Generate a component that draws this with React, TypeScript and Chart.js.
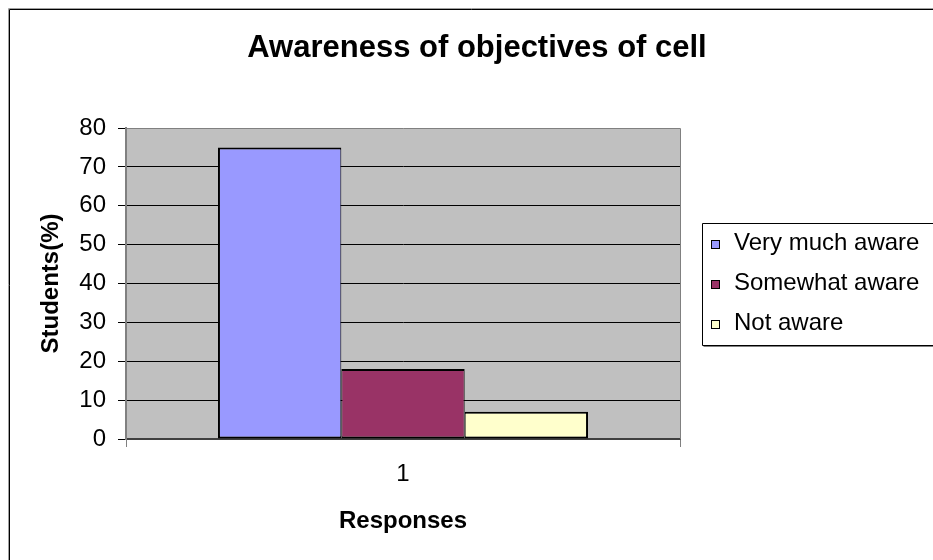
import React, { useEffect, useRef } from 'react';
import { Chart, registerables } from 'chart.js';

Chart.register(...registerables);

const chartTitle = 'Awareness of objectives of cell';
const categories = ['1'];
const seriesNames = ['Very much aware', 'Somewhat aware', 'Not aware'];
const veryMuchAware = [75];
const somewhatAware = [18];
const notAware = [7];
const yMin = 0;
const yMax = 80;
const yStep = 10;
const xTitle = 'Responses';
const yTitle = 'Students(%)';

const FONT = "'Liberation Sans', Arial, sans-serif";

const framePlugin = {
  id: 'excelFrame',
  beforeDraw(chart: any) {
    const { ctx, chartArea: a } = chart;
    ctx.save();
    ctx.fillStyle = '#C0C0C0';
    ctx.fillRect(a.left, a.top, a.right - a.left, a.bottom - a.top);
    // outer chart border
    ctx.strokeStyle = '#A0A0A0';
    ctx.lineWidth = 1;
    ctx.beginPath();
    ctx.moveTo(8.5, chart.height + 2);
    ctx.lineTo(8.5, 8.5);
    ctx.lineTo(chart.width + 2, 8.5);
    ctx.stroke();
    ctx.strokeStyle = '#000';
    ctx.beginPath();
    ctx.moveTo(9.5, chart.height + 2);
    ctx.lineTo(9.5, 9.5);
    ctx.lineTo(chart.width + 2, 9.5);
    ctx.stroke();
    ctx.restore();
  },
  beforeDatasetsDraw(chart: any) {
    const { ctx, chartArea: a } = chart;
    ctx.save();
    ctx.strokeStyle = '#808080';
    ctx.lineWidth = 1;
    ctx.beginPath();
    ctx.moveTo(Math.round(a.left) + 0.5, Math.round(a.top) + 0.5);
    ctx.lineTo(Math.round(a.right) + 0.5, Math.round(a.top) + 0.5);
    ctx.lineTo(Math.round(a.right) + 0.5, Math.round(a.bottom) + 0.5);
    ctx.stroke();
    ctx.restore();
  },
  afterDraw(chart: any) {
    // Excel-style legend box, built from the chart's own datasets
    const { ctx, chartArea: a } = chart;
    const datasets = chart.data.datasets;
    const n = datasets.length;
    const rowGap = 40;
    const midY = (a.top + a.bottom) / 2;
    const firstY = midY - ((n - 1) / 2) * rowGap;
    const boxLeft = Math.round(a.right + 22) + 0.5;
    const boxTop = Math.round(firstY - 21) + 0.5;
    const boxBottom = Math.round(firstY + (n - 1) * rowGap + 21) + 0.5;
    ctx.save();
    ctx.strokeStyle = '#808080';
    ctx.lineWidth = 1;
    ctx.beginPath();
    ctx.moveTo(boxLeft + 1, boxBottom + 1);
    ctx.lineTo(chart.width + 5, boxBottom + 1);
    ctx.stroke();
    ctx.strokeStyle = '#000';
    ctx.beginPath();
    ctx.moveTo(chart.width + 5, boxTop);
    ctx.lineTo(boxLeft, boxTop);
    ctx.lineTo(boxLeft, boxBottom);
    ctx.lineTo(chart.width + 5, boxBottom);
    ctx.stroke();

    ctx.font = `24px ${FONT}`;
    ctx.textBaseline = 'middle';
    ctx.textAlign = 'left';
    datasets.forEach((ds: any, i: number) => {
      const cy = firstY + i * rowGap;
      const mx = Math.round(a.right + 31);
      const my = Math.round(cy - 4);
      ctx.fillStyle = ds.backgroundColor;
      ctx.fillRect(mx, my, 8, 8);
      ctx.strokeStyle = '#000';
      ctx.lineWidth = 1;
      ctx.strokeRect(mx + 0.5, my + 0.5, 8, 8);
      ctx.fillStyle = '#000';
      ctx.fillText(ds.label, a.right + 54, cy);
    });
    ctx.restore();
  },
};

export default function App() {
  const canvasRef = useRef<HTMLCanvasElement | null>(null);

  useEffect(() => {
    if (!canvasRef.current) return;
    Chart.defaults.font.family = FONT;
    Chart.defaults.color = '#000';

    const chart = new Chart(canvasRef.current, {
      type: 'bar',
      data: {
        labels: categories,
        datasets: [
          {
            label: seriesNames[0],
            data: veryMuchAware,
            backgroundColor: '#9999FF',
            borderColor: '#000',
            borderWidth: { left: 2, right: 1, top: 2, bottom: 2 },
            borderSkipped: false,
          },
          {
            label: seriesNames[1],
            data: somewhatAware,
            backgroundColor: '#993366',
            borderColor: '#000',
            borderWidth: { left: 1, right: 1, top: 2, bottom: 2 },
            borderSkipped: false,
          },
          {
            label: seriesNames[2],
            data: notAware,
            backgroundColor: '#FFFFCC',
            borderColor: '#000',
            borderWidth: { left: 1, right: 2, top: 2, bottom: 2 },
            borderSkipped: false,
          },
        ],
      },
      options: {
        animation: false,
        responsive: false,
        devicePixelRatio: 1,
        events: [],
        layout: { padding: { left: 21, right: 0, top: 0, bottom: 0 } },
        datasets: {
          bar: { categoryPercentage: 0.668, barPercentage: 1 },
        },
        plugins: {
          title: {
            display: true,
            text: chartTitle,
            color: '#000',
            font: { family: FONT, size: 31, weight: 'bold' },
            padding: { top: 29.4, bottom: 61.4 },
          },
          legend: { display: false },
          tooltip: { enabled: false },
        },
        scales: {
          x: {
            type: 'category',
            position: 'bottom',
            grid: {
              display: true,
              drawOnChartArea: false,
              drawTicks: true,
              tickLength: 8,
              offset: true,
              color: '#808080',
              tickColor: '#808080',
            },
            border: { display: true, color: '#404040', width: 2 },
            ticks: {
              color: '#000',
              font: { family: FONT, size: 24 },
              padding: 13,
              maxRotation: 0,
            },
            title: {
              display: true,
              text: xTitle,
              color: '#000',
              font: { family: FONT, size: 24, weight: 'bold' },
              padding: { top: 0, bottom: 24.6 },
            },
            afterFit: (s: any) => {
              s.height = 121;
            },
          },
          y: {
            type: 'linear',
            position: 'left',
            min: yMin,
            max: yMax,
            ticks: {
              stepSize: yStep,
              color: '#000',
              font: { family: FONT, size: 24 },
              padding: 12,
            },
            grid: {
              display: true,
              drawTicks: true,
              tickLength: 8,
              lineWidth: 1,
              color: (ctx: any) =>
                ctx.tick && (ctx.tick.value === yMax || ctx.tick.value === yMin)
                  ? 'rgba(0,0,0,0)'
                  : '#000',
              tickColor: '#000',
            },
            border: { display: true, color: '#808080', width: 2 },
            title: {
              display: true,
              text: yTitle,
              color: '#000',
              font: { family: FONT, size: 24, weight: 'bold' },
              padding: { top: 16, bottom: 0 },
            },
            afterFit: (s: any) => {
              s.width = 105;
            },
          },
          legendSpace: {
            type: 'linear',
            position: 'right',
            display: true,
            grid: { display: false, drawTicks: false },
            ticks: { display: false },
            border: { display: false },
            title: { display: false },
            afterFit: (s: any) => {
              s.width = 253;
            },
          },
        },
      } as any,
      plugins: [framePlugin],
    });

    return () => {
      chart.destroy();
    };
  }, []);

  return (
    <div style={{ position: 'absolute', left: 0, top: 0, width: 933, height: 560, background: '#fff' }}>
      <canvas ref={canvasRef} width={933} height={560} style={{ display: 'block' }} />
    </div>
  );
}
